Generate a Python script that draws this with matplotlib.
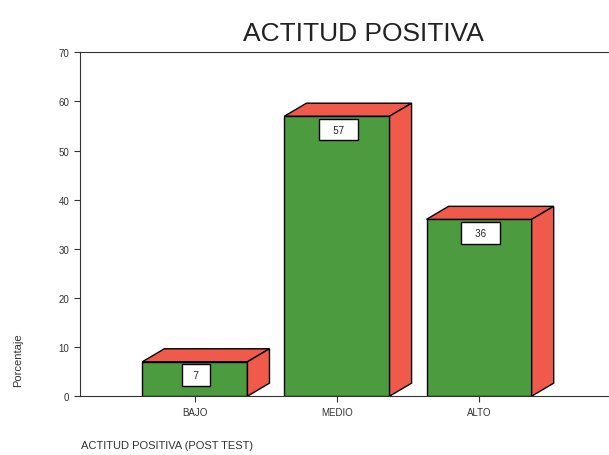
import matplotlib.pyplot as plt
from matplotlib.patches import Polygon

plt.rcParams['font.family'] = ['Liberation Sans', 'DejaVu Sans']

categories = ['BAJO', 'MEDIO', 'ALTO']
values = [7, 57, 36]
yticks = [0, 10, 20, 30, 40, 50, 60, 70]

green = '#4c9b3f'
red = '#ef5a4b'
width = 0.74
dx, dy = 0.155, 2.65  # depth offset in data units

fig = plt.figure(figsize=(6.09, 4.56), dpi=100)
ax = fig.add_axes([0.131, 0.129, 0.889, 0.754])

x = list(range(len(categories)))
ax.bar(x, values, width=width, color=green, edgecolor='black', linewidth=1, zorder=3)
for xi, v in zip(x, values):
    l, r = xi - width / 2, xi + width / 2
    top = Polygon([(l, v), (l + dx, v + dy), (r + dx, v + dy), (r, v)],
                  closed=True, facecolor=red, edgecolor='black', linewidth=1, zorder=3)
    side = Polygon([(r, 0), (r + dx, dy), (r + dx, v + dy), (r, v)],
                   closed=True, facecolor=red, edgecolor='black', linewidth=1, zorder=3)
    ax.add_patch(top)
    ax.add_patch(side)
    pad = '  ' if v < 10 else '   '
    ax.text(xi + 0.01, v - 1.7, pad + str(v) + pad, ha='center', va='top', fontsize=7, zorder=4,
            color='#222222',
            bbox=dict(boxstyle='square,pad=0.6', facecolor='white', edgecolor='black', linewidth=1))

ax.set_xlim(-0.81, 3.0)
ax.set_ylim(0, 70)
ax.set_yticks(yticks)
ax.set_xticks(x)
ax.set_xticklabels(categories)
ax.tick_params(axis='both', labelsize=7, length=4, color='#333333', labelcolor='#333333')
for s in ['left', 'bottom', 'top']:
    ax.spines[s].set_color('#333333')
ax.spines['right'].set_visible(False)

fig.text(0.596, 0.925, 'ACTITUD POSITIVA', ha='center', va='center', fontsize=19, color='#222222')
fig.text(0.03, 0.21, 'Porcentaje', rotation=90, ha='center', va='center', fontsize=8, color='#333333')
fig.text(0.133, 0.012, 'ACTITUD POSITIVA (POST TEST)', ha='left', va='bottom', fontsize=8, color='#333333')

fig.savefig('out.png', dpi=100)
